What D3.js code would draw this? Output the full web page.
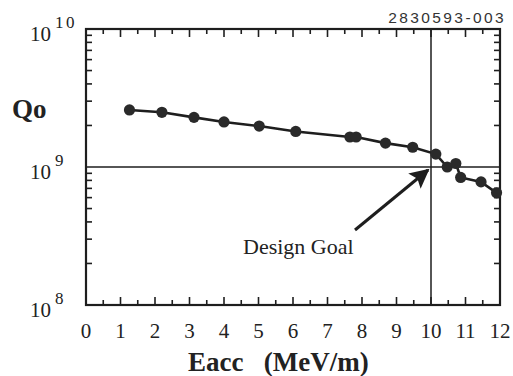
<!DOCTYPE html>
<html lang="en">
<head>
<meta charset="UTF-8" />
<title>Qo vs Eacc</title>
<script src="https://d3js.org/d3.v7.min.js"></script>
<style>
  body { margin: 0; background: #fff; }
  svg { display: block; }
  .serif { font-family: "Liberation Serif", "Times New Roman", serif; fill: #222; }
</style>
</head>
<body>
<div id="chart"></div>
<script>
// values
const eacc = [1.26, 2.2, 3.13, 4.0, 5.02, 6.08, 7.65, 7.83, 8.68, 9.47, 10.14, 10.47, 10.72, 10.86, 11.45, 11.9];
const qo = [2.59e9, 2.49e9, 2.29e9, 2.12e9, 1.98e9, 1.81e9, 1.65e9, 1.65e9, 1.49e9, 1.39e9, 1.24e9, 1.0e9, 1.06e9, 0.84e9, 0.78e9, 0.65e9];
const xTicks = [0, 1, 2, 3, 4, 5, 6, 7, 8, 9, 10, 11, 12];
const yDecades = [8, 9, 10];
const goalE = 10;
const goalQ = 1e9;

const W = 513, H = 376;
const m = {left: 86, right: 13, top: 29, bottom: 71};

const svg = d3.select("#chart").append("svg")
  .attr("width", W).attr("height", H);

const x = d3.scaleLinear().domain([0, 12]).range([m.left, W - m.right]);
const y = d3.scaleLog().domain([1e8, 1e10]).range([H - m.bottom, m.top]);

// ticks, all pointing inward
const minorX = d3.range(0.5, 12, 1);
const minorY = [];
yDecades.slice(0, 2).forEach(d => {
  for (let k = 2; k <= 9; k++) minorY.push(k * Math.pow(10, d));
});

const ticks = svg.append("g").attr("stroke", "#1e1e1e").attr("stroke-width", 1.6);
[[H - m.bottom, -1], [m.top, 1]].forEach(([yy, dir]) => {
  xTicks.slice(1, -1).forEach(t => ticks.append("line")
    .attr("x1", x(t)).attr("x2", x(t)).attr("y1", yy).attr("y2", yy + dir * 8));
  minorX.forEach(t => ticks.append("line")
    .attr("x1", x(t)).attr("x2", x(t)).attr("y1", yy).attr("y2", yy + dir * 5));
});
[[m.left, 1], [W - m.right, -1]].forEach(([xx, dir]) => {
  minorY.forEach(v => ticks.append("line")
    .attr("x1", xx).attr("x2", xx + dir * 6).attr("y1", y(v)).attr("y2", y(v)));
});

// reference lines
svg.append("line")
  .attr("x1", m.left).attr("x2", W - m.right)
  .attr("y1", y(goalQ)).attr("y2", y(goalQ))
  .attr("stroke", "#1e1e1e").attr("stroke-width", 1.5);
svg.append("line")
  .attr("x1", x(goalE)).attr("x2", x(goalE))
  .attr("y1", m.top).attr("y2", H - m.bottom)
  .attr("stroke", "#1e1e1e").attr("stroke-width", 1.5);

// frame
svg.append("rect")
  .attr("x", m.left).attr("y", m.top)
  .attr("width", W - m.left - m.right).attr("height", H - m.top - m.bottom)
  .attr("fill", "none").attr("stroke", "#1e1e1e").attr("stroke-width", 2.2);

// data
const pts = eacc.map((e, i) => [e, qo[i]]);
svg.append("path")
  .datum(pts)
  .attr("d", d3.line().x(d => x(d[0])).y(d => y(d[1])))
  .attr("fill", "none").attr("stroke", "#1e1e1e").attr("stroke-width", 2.6);
svg.selectAll("circle.pt").data(pts).join("circle")
  .attr("class", "pt")
  .attr("cx", d => x(d[0])).attr("cy", d => y(d[1]))
  .attr("r", 5.6).attr("fill", "#2a2a2a");

// x tick labels
svg.append("g").selectAll("text").data(xTicks).join("text")
  .attr("class", "serif")
  .attr("x", d => x(d)).attr("y", 338)
  .attr("text-anchor", "middle")
  .style("font-size", "21px")
  .text(d => d);

// y decade labels
yDecades.forEach(d => {
  const t = svg.append("text").attr("class", "serif")
    .attr("x", 30).attr("y", y(Math.pow(10, d)) + 12)
    .style("font-size", "21px");
  t.append("tspan").text("10");
  t.append("tspan").attr("dx", 4).attr("dy", -13)
    .style("font-size", "17px").style("letter-spacing", "2.5px").text(d);
});

// axis titles
svg.append("text").attr("class", "serif")
  .attr("x", 12).attr("y", 118)
  .style("font-size", "27px").style("font-weight", "bold")
  .text("Qo");
svg.append("text").attr("class", "serif")
  .attr("x", 188).attr("y", 371)
  .style("font-size", "27px").style("font-weight", "bold")
  .attr("xml:space", "preserve")
  .text("Eacc   (MeV/m)");

// annotation
svg.append("text").attr("class", "serif")
  .attr("x", 243).attr("y", 254)
  .style("font-size", "22px")
  .text("Design Goal");

svg.append("defs").append("marker")
  .attr("id", "head").attr("viewBox", "0 0 10 10")
  .attr("refX", 9).attr("refY", 5)
  .attr("markerWidth", 7.5).attr("markerHeight", 6.5)
  .attr("markerUnits", "strokeWidth")
  .attr("orient", "auto")
  .append("path").attr("d", "M0,0 L10,5 L0,10 L2,5 Z").attr("fill", "#1e1e1e");
svg.append("line")
  .attr("x1", 355).attr("y1", 230).attr("x2", 428).attr("y2", 170)
  .attr("stroke", "#1e1e1e").attr("stroke-width", 3)
  .attr("marker-end", "url(#head)");

// figure id
svg.append("text")
  .attr("x", 506).attr("y", 23)
  .attr("text-anchor", "end")
  .style("font-family", "'Liberation Sans', Arial, sans-serif")
  .style("font-size", "15.5px")
  .style("letter-spacing", "2.4px")
  .attr("fill", "#333")
  .text("2830593-003");
</script>
</body>
</html>
